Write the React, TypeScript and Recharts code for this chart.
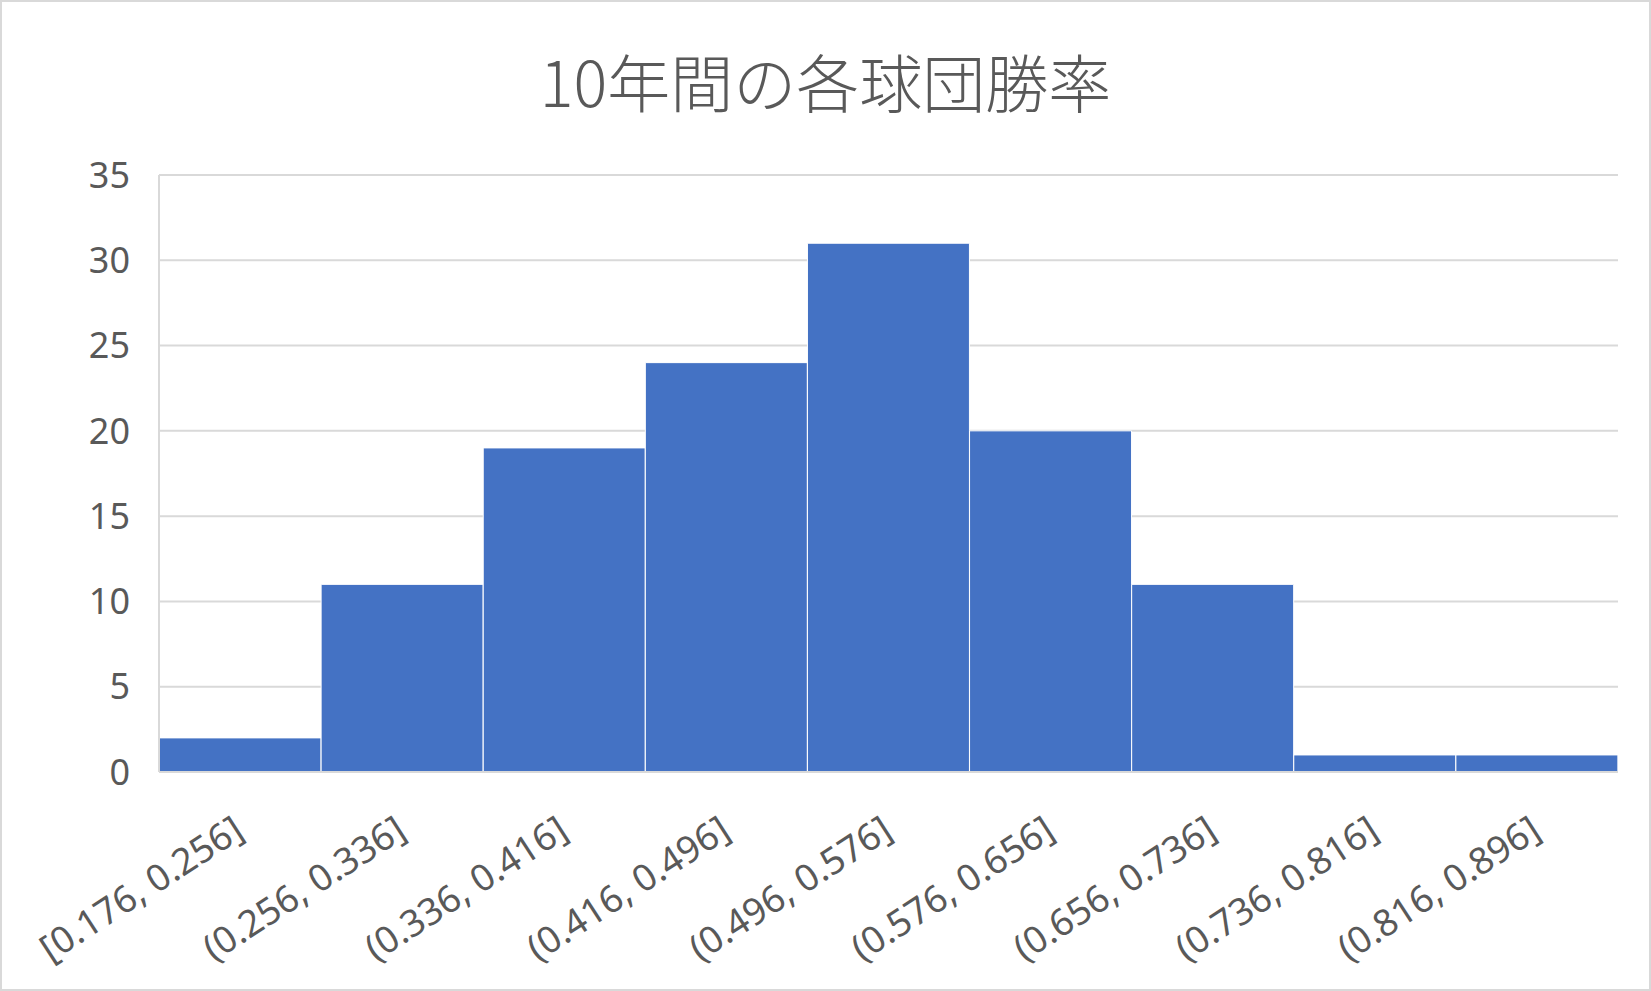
import { Bar, BarChart, CartesianGrid, XAxis, YAxis } from "recharts";

const bins = [
  "[0.176, 0.256]",
  "(0.256, 0.336]",
  "(0.336, 0.416]",
  "(0.416, 0.496]",
  "(0.496, 0.576]",
  "(0.576, 0.656]",
  "(0.656, 0.736]",
  "(0.736, 0.816]",
  "(0.816, 0.896]",
];
const counts = [2, 11, 19, 24, 31, 20, 11, 1, 1];
const yTicks = [0, 5, 10, 15, 20, 25, 30, 35];

const data = bins.map((bin, i) => ({ bin, count: counts[i] }));

const textColor = "#595959";
const gridColor = "#d9d9d9";
const font = "'Noto Sans', 'Noto Sans CJK JP', sans-serif";

const BinTick = ({ x, y, payload }: { x?: number; y?: number; payload?: { value: string } }) => (
  <text
    x={0}
    y={0}
    transform={`translate(${(x ?? 0) + 6}, ${(y ?? 0) + 56}) rotate(-33)`}
    textAnchor="end"
    fill={textColor}
    fontSize={37}
    fontFamily={font}
  >
    {payload?.value}
  </text>
);

export default function App() {
  return (
    <div
      style={{
        position: "absolute",
        left: 0,
        top: 0,
        width: 1651,
        height: 991,
        background: "#fff",
        border: `2px solid ${gridColor}`,
        boxSizing: "border-box",
        overflow: "hidden",
      }}
    >
      <div
        style={{
          position: "absolute",
          left: 0,
          right: 0,
          top: 36,
          textAlign: "center",
          fontFamily: "'Noto Sans CJK JP', 'Noto Sans', sans-serif",
          fontSize: 63,
          fontWeight: 300,
          color: textColor,
          lineHeight: "84px",
        }}
      >
        10年間の各球団勝率
      </div>
      <div style={{ position: "absolute", left: -2, top: -2 }}>
        <BarChart
          width={1651}
          height={991}
          data={data}
          margin={{ top: 175, right: 33, left: 0, bottom: 0 }}
          barCategoryGap={0}
          barGap={0}
        >
          <CartesianGrid vertical={false} stroke={gridColor} strokeWidth={2} />
          <XAxis
            dataKey="bin"
            height={219}
            interval={0}
            tick={<BinTick />}
            tickLine={false}
            axisLine={{ stroke: gridColor, strokeWidth: 2 }}
          />
          <YAxis
            width={159}
            domain={[0, 35]}
            ticks={yTicks}
            interval={0}
            tickLine={false}
            tickMargin={23}
            axisLine={{ stroke: gridColor, strokeWidth: 2 }}
            tick={{ fill: textColor, fontSize: 36, fontFamily: font }}
          />
          <Bar dataKey="count" fill="#4472C4" stroke="#ffffff" strokeWidth={1} isAnimationActive={false} />
        </BarChart>
      </div>
    </div>
  );
}
